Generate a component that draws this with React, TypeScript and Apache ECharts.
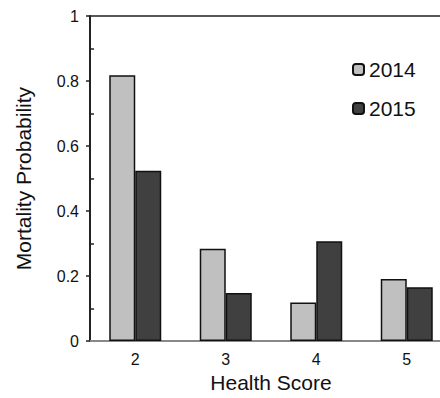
import React, { useEffect, useRef } from "react";
import * as echarts from "echarts";

const categories = ["2", "3", "4", "5"];
const series2014 = [0.818, 0.284, 0.119, 0.191];
const series2015 = [0.524, 0.148, 0.307, 0.166];
const minorTickValues = [0.1, 0.3, 0.5, 0.7, 0.9];

const FONT = "'Liberation Sans', Arial, sans-serif";

export default function App() {
  const ref = useRef<HTMLDivElement>(null);
  useEffect(() => {
    if (!ref.current) return;
    const chart = echarts.init(ref.current, null, { renderer: "svg" });
    chart.setOption({
      animation: false,
      textStyle: { fontFamily: FONT },
      grid: { left: 90, right: 18, top: 16, bottom: 53 },
      legend: {
        orient: "vertical",
        left: 347,
        top: 54,
        itemWidth: 11,
        itemHeight: 11,
        itemGap: 18,
        textStyle: { fontFamily: FONT, fontSize: 21, color: "#111" },
        data: ["2014", "2015"],
      },
      xAxis: [
        {
          type: "category",
          data: categories,
          position: "bottom",
          axisLine: { lineStyle: { color: "#888", width: 2 } },
          axisTick: { show: false },
          axisLabel: { fontSize: 16, color: "#111", margin: 10, fontFamily: FONT },
          name: "Health Score",
          nameLocation: "middle",
          nameGap: 30,
          nameTextStyle: { fontSize: 21, color: "#111", fontFamily: FONT },
        },
        {
          type: "category",
          data: categories,
          position: "top",
          axisLine: { onZero: false, lineStyle: { color: "#222", width: 1.5 } },
          axisTick: { show: false },
          axisLabel: { show: false },
        },
      ],
      yAxis: [
        {
          type: "value",
          min: 0,
          max: 1,
          interval: 0.2,
          axisLine: { show: true, lineStyle: { color: "#222", width: 2 } },
          axisTick: { show: true, length: 4, lineStyle: { color: "#222", width: 1.5 } },
          axisLabel: {
            fontSize: 16,
            color: "#111",
            margin: 11,
            fontFamily: FONT,
            formatter: (v: number) => (v === 0 || v === 1 ? String(v) : v.toFixed(1)),
          },
          splitLine: { show: false },
          name: "Mortality Probability",
          nameLocation: "middle",
          nameGap: 56,
          nameTextStyle: { fontSize: 21, color: "#111", fontFamily: FONT },
        },
        {
          type: "value",
          min: 0,
          max: 1,
          position: "left",
          axisLine: { show: false },
          axisTick: {
            show: true,
            inside: true,
            length: 4,
            customValues: minorTickValues,
            lineStyle: { color: "#222", width: 1.5 },
          },
          axisLabel: { show: false },
          splitLine: { show: false },
        },
      ],
      series: [
        {
          name: "2014",
          type: "bar",
          data: series2014,
          barWidth: 26,
          barGap: "0%",
          itemStyle: { color: "#c0c0c0", borderColor: "#111", borderWidth: 1.5 },
        },
        {
          name: "2015",
          type: "bar",
          data: series2015,
          barWidth: 26,
          barGap: "0%",
          itemStyle: { color: "#404040", borderColor: "#111", borderWidth: 1.5 },
        },
      ],
    });
    return () => chart.dispose();
  }, []);
  return (
    <div
      ref={ref}
      style={{ position: "fixed", left: 0, top: 0, width: 470, height: 398, background: "#fff" }}
    />
  );
}
